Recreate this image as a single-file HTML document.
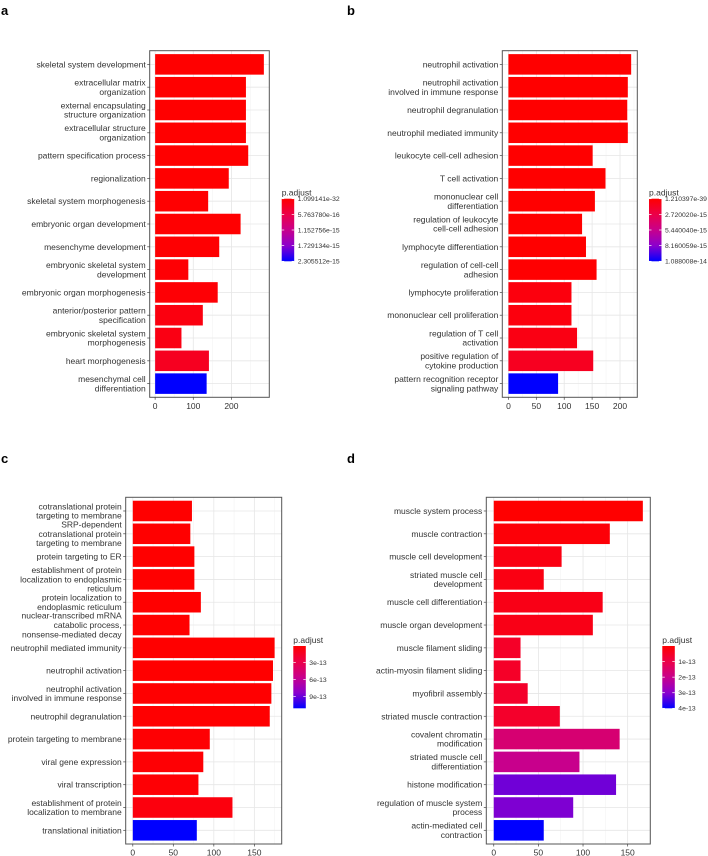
<!DOCTYPE html>
<html><head><meta charset="utf-8">
<style>
html,body{margin:0;padding:0;background:#fff;}
svg{display:block;font-family:"Liberation Sans",Arial,sans-serif;}
</style></head>
<body>
<svg id="fig" width="708" height="856" viewBox="0 0 708 856">
<text x="1" y="15" font-size="13" font-weight="bold">a</text>
<text x="347" y="15" font-size="13" font-weight="bold">b</text>
<text x="1" y="463" font-size="13" font-weight="bold">c</text>
<text x="347" y="463" font-size="13" font-weight="bold">d</text>
</svg>
<script>
// ---- Panel a data ----
const catsA = ["skeletal system development","extracellular matrix\norganization","external encapsulating\nstructure organization","extracellular structure\norganization","pattern specification process","regionalization","skeletal system morphogenesis","embryonic organ development","mesenchyme development","embryonic skeletal system\ndevelopment","embryonic organ morphogenesis","anterior/posterior pattern\nspecification","embryonic skeletal system\nmorphogenesis","heart morphogenesis","mesenchymal cell\ndifferentiation"];
const valsA = [285,238,238,238,244,193,139,224,168,87,164,125,69,141,135];
const padjA = [1.1e-32,1e-20,1e-20,1e-20,1e-19,1e-18,1e-17,1e-17,2e-17,3e-17,4e-17,1.2e-16,1.5e-16,2.6e-16,2.305512e-15];
const ticksA = [0,100,200];
const legA = ["1.099141e-32","5.763780e-16","1.152756e-15","1.729134e-15","2.305512e-15"];
const legValsA = [1.099141e-32,5.763780e-16,1.152756e-15,1.729134e-15,2.305512e-15];
const legRangeA = [1.099141e-32,2.305512e-15];

// ---- Panel b data ----
const catsB = ["neutrophil activation","neutrophil activation\ninvolved in immune response","neutrophil degranulation","neutrophil mediated immunity","leukocyte cell-cell adhesion","T cell activation","mononuclear cell\ndifferentiation","regulation of leukocyte\ncell-cell adhesion","lymphocyte differentiation","regulation of cell-cell\nadhesion","lymphocyte proliferation","mononuclear cell proliferation","regulation of T cell\nactivation","positive regulation of\ncytokine production","pattern recognition receptor\nsignaling pathway"];
const valsB = [220,214,213,214,151,174,155,132,139,158,113,113,123,152,89];
const padjB = [1.2e-39,1e-30,1e-29,1e-28,1e-20,1e-19,1e-18,1e-17,1e-17,2e-17,5e-16,5e-16,7e-16,1.2e-15,1.088008e-14];
const ticksB = [0,50,100,150,200];
const legB = ["1.210397e-39","2.720020e-15","5.440040e-15","8.160059e-15","1.088008e-14"];
const legValsB = [1.210397e-39,2.720020e-15,5.440040e-15,8.160059e-15,1.088008e-14];
const legRangeB = [1.210397e-39,1.088008e-14];

// ---- Panel c data ----
const catsC = ["cotranslational protein\ntargeting to membrane","SRP-dependent\ncotranslational protein\ntargeting to membrane","protein targeting to ER","establishment of protein\nlocalization to endoplasmic\nreticulum","protein localization to\nendoplasmic reticulum","nuclear-transcribed mRNA\ncatabolic process,\nnonsense-mediated decay","neutrophil mediated immunity","neutrophil activation","neutrophil activation\ninvolved in immune response","neutrophil degranulation","protein targeting to membrane","viral gene expression","viral transcription","establishment of protein\nlocalization to membrane","translational initiation"];
const valsC = [73,71,76,76,84,70,175,173,171,169,95,87,81,123,79];
const padjC = [1e-15,1e-15,2e-15,2e-15,3e-15,5e-15,1e-14,1e-14,1.2e-14,1.3e-14,2e-14,2.5e-14,3e-14,6e-14,1.11e-12];
const ticksC = [0,50,100,150];
const legC = ["3e-13","6e-13","9e-13"];
const legValsC = [3e-13,6e-13,9e-13];
const legRangeC = [1e-14,1.11e-12];

// ---- Panel d data ----
const catsD = ["muscle system process","muscle contraction","muscle cell development","striated muscle cell\ndevelopment","muscle cell differentiation","muscle organ development","muscle filament sliding","actin-myosin filament sliding","myofibril assembly","striated muscle contraction","covalent chromatin\nmodification","striated muscle cell\ndifferentiation","histone modification","regulation of muscle system\nprocess","actin-mediated cell\ncontraction"];
const valsD = [167,130,76,56,122,111,30,30,38,74,141,96,137,89,56];
const padjD = [1e-16,0.1e-13,0.25e-13,0.25e-13,0.3e-13,0.3e-13,0.55e-13,0.55e-13,0.6e-13,0.6e-13,1.6e-13,2.0e-13,3.2e-13,3.1e-13,4e-13];
const ticksD = [0,50,100,150];
const legD = ["1e-13","2e-13","3e-13","4e-13"];
const legValsD = [1e-13,2e-13,3e-13,4e-13];
const legRangeD = [0,4e-13];

const NS = "http://www.w3.org/2000/svg";
const svg = document.getElementById("fig");
function mk(tag, attrs, parent){
  const e = document.createElementNS(NS, tag);
  for (const k in attrs) e.setAttribute(k, attrs[k]);
  (parent||svg).appendChild(e);
  return e;
}
const stops = [[0,[255,0,0]],[0.25,[236,0,72]],[0.5,[200,0,140]],[0.75,[140,0,205]],[1,[0,0,255]]];
function colorAt(f){
  f = Math.max(0, Math.min(1, f));
  for (let i=1;i<stops.length;i++){
    if (f <= stops[i][0]){
      const a = stops[i-1], b = stops[i];
      const t = (f - a[0])/(b[0]-a[0]);
      const c = a[1].map((v,j)=>Math.round(v + (b[1][j]-v)*t));
      return "rgb("+c.join(",")+")";
    }
  }
  return "rgb(0,0,255)";
}

function panel(id, cats, vals, padj, ticks, legLabels, legVals, legRange, box, leg){
  const g = mk("g", {});
  
  
  const maxV = Math.max(...vals);
  const d0 = -0.05*maxV, d1 = 1.05*maxV;
  const x = v => box.x0 + (v - d0)/(d1 - d0)*(box.x1 - box.x0);
  const n = cats.length;
  const unit = (box.y1 - box.y0)/(n - 1 + 1.2);
  const y = i => box.y0 + (0.6 + i)*unit;
  const col = p => colorAt((p - legRange[0])/(legRange[1]-legRange[0]));
  const bg = mk("rect", {x:box.x0, y:box.y0, width:box.x1-box.x0, height:box.y1-box.y0, fill:"#fff"}, g);
  
  
  for (let i=0;i<ticks.length;i++){
    const step = ticks[1]-ticks[0];
    const mv = ticks[i] + step/2;
    if (x(mv) < box.x1) mk("line",{x1:x(mv),x2:x(mv),y1:box.y0,y2:box.y1,stroke:"#f4f4f4","stroke-width":0.6},g);
  }
  ticks.forEach(t=>mk("line",{x1:x(t),x2:x(t),y1:box.y0,y2:box.y1,stroke:"#e6e6e6","stroke-width":0.8},g));
  for (let i=0;i<n;i++) mk("line",{x1:box.x0,x2:box.x1,y1:y(i),y2:y(i),stroke:"#e6e6e6","stroke-width":0.8},g);
  for (let i=0;i<n;i++){
    const h = unit*0.9;
    const r = mk("rect",{x:x(0), y:y(i)-h/2, width:x(vals[i])-x(0), height:h, fill:col(padj[i])}, g);
    
    
  }
  mk("rect",{x:box.x0, y:box.y0, width:box.x1-box.x0, height:box.y1-box.y0, fill:"none", stroke:"#555", "stroke-width":1},g);
  const lh = 9.3;
  for (let i=0;i<n;i++){
    mk("line",{x1:box.x0-2.5,x2:box.x0,y1:y(i),y2:y(i),stroke:"#444","stroke-width":0.7},g);
    const lines = cats[i].split("\n");
    const t = mk("text",{x:box.x0-4, y:0, "font-size":8.5, fill:"#333", "text-anchor":"end"}, g);
    
    
    lines.forEach((ln,k)=>{
      const ts = mk("tspan",{x:box.x0-4, y:y(i) + (k - (lines.length-1)/2)*lh + 3}, t);
      ts.textContent = ln;
    });
  }
  ticks.forEach(tv=>{
    mk("line",{x1:x(tv),x2:x(tv),y1:box.y1,y2:box.y1+2.5,stroke:"#444","stroke-width":0.7},g);
    const t = mk("text",{x:x(tv), y:box.y1+11.5, "font-size":8.5, fill:"#333","text-anchor":"middle"}, g);
    
    
    t.textContent = tv;
  });
  const lg = mk("g",{},g);
  
  
  const tt = mk("text",{x:leg.x, y:leg.y0-3, "font-size":8.5, fill:"#333"}, lg);
  
  
  tt.textContent = "p.adjust";
  const gid = "grad-" + id;
  const defs = mk("defs",{},lg);
  const lgr = mk("linearGradient",{id:gid,x1:0,y1:0,x2:0,y2:1},defs);
  stops.forEach(s=>mk("stop",{offset:s[0], "stop-color":"rgb("+s[1].join(",")+")"},lgr));
  const cb = mk("rect",{x:leg.x, y:leg.y0, width:12.5, height:leg.y1-leg.y0, fill:"url(#"+gid+")"}, lg);
  
  
  legVals.forEach((v,k)=>{
    const yy = leg.y0 + (v - legRange[0])/(legRange[1]-legRange[0])*(leg.y1-leg.y0);
    mk("line",{x1:leg.x,x2:leg.x+2.5,y1:yy,y2:yy,stroke:"#fff","stroke-width":0.7},lg);
    mk("line",{x1:leg.x+10,x2:leg.x+12.5,y1:yy,y2:yy,stroke:"#fff","stroke-width":0.7},lg);
    const t = mk("text",{x:leg.x+16, y:yy+2.4, "font-size":6.8, fill:"#333"}, lg);
    
    
    t.textContent = legLabels[k];
  });
}

panel("a", catsA, valsA, padjA, ticksA, legA, legValsA, legRangeA, {x0:149.7,x1:269.3,y0:50.7,y1:397.3}, {x:281.7,y0:198.7,y1:261.3});
panel("b", catsB, valsB, padjB, ticksB, legB, legValsB, legRangeB, {x0:502.3,x1:637.3,y0:50.7,y1:397.3}, {x:649,y0:198.7,y1:261.3});
panel("c", catsC, valsC, padjC, ticksC, legC, legValsC, legRangeC, {x0:125.7,x1:281.7,y0:497.3,y1:844}, {x:293.3,y0:646,y1:708.3});
panel("d", catsD, valsD, padjD, ticksD, legD, legValsD, legRangeD, {x0:486.3,x1:650.3,y0:497.3,y1:844}, {x:662.3,y0:646,y1:708.3});
</script>
</body></html>
